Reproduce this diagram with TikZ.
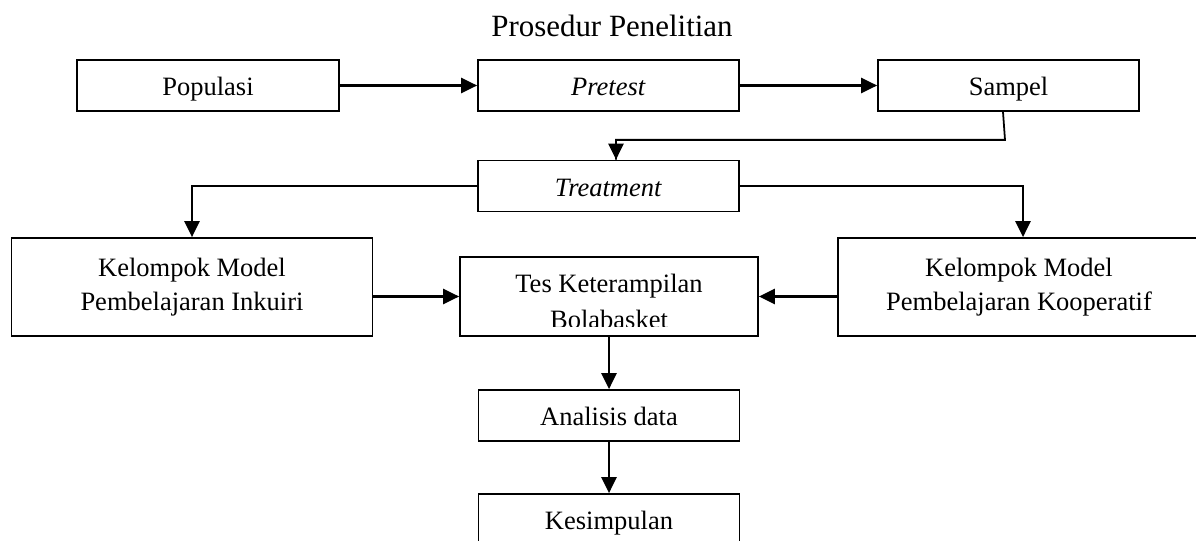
\documentclass[tikz,border=0pt]{standalone}
\usepackage{fontspec}
\setmainfont{Liberation Serif}
\usetikzlibrary{arrows.meta}
\newcommand{\satuan}{0.4528pt}

\begin{document}
\begin{tikzpicture}[x=\satuan, y=-\satuan,
        kotak/.style={draw, line width=0.8pt, inner sep=0pt},
        teks/.style={font=\fontsize{12}{15.4}\selectfont, align=center},
        kotaksatu/.style={kotak, teks, minimum width=261*\satuan, minimum height=51*\satuan, text height=11.5pt, text depth=2.3pt},
        panah/.style={line width=1pt, -{Triangle[length=7.2pt, width=6.8pt]}}]
        \useasboundingbox (0,0) rectangle (1196,541);

        % --- Judul ---
        \node[font=\fontsize{14}{16}\selectfont, anchor=base] (judul) at (612,37) {Prosedur Penelitian};

        % --- Baris atas ---
        \node[kotaksatu, minimum width=262.5*\satuan] (populasi) at (208,85.5) {Populasi};
        \node[kotaksatu] (pretest) at (608.5,85.5) {\textit{Pretest}};
        \node[kotaksatu] (sampel) at (1008.5,85.5) {Sampel};
        \draw[panah] (populasi) -- (pretest);
        \draw[panah] (pretest) -- (sampel);

        % --- Treatment ---
        \node[kotaksatu] (treatment) at (608.5,186) {\textit{Treatment}};
        \draw[line width=0.8pt] (sampel.south) ++(-5.5,0) -- ++(2,28) -| ([xshift=3.4pt]treatment.north);
        \draw[panah] ([xshift=3.4pt]treatment.north) ++(0,-10) -- ([xshift=3.4pt]treatment.north);

        % --- Dua kelompok ---
        \node[kotak, teks, minimum width=361*\satuan, minimum height=98*\satuan] (inkuiri) at (192,287) {Kelompok Model\\Pembelajaran Inkuiri};
        \node[kotak, minimum width=370*\satuan, minimum height=98*\satuan] (kooperatif) at (1023,287) {};
        \node[teks] (kooperatifteks) at (1019,287) {Kelompok Model\\Pembelajaran Kooperatif};
        \draw[panah] (treatment.west) -| (inkuiri.north);
        \draw[panah] (treatment.east) -| (kooperatif.north);

        % --- Tes (teks terpotong di bawah) ---
        \node[kotak, minimum width=298*\satuan, minimum height=79*\satuan] (tes) at (609,296.5) {};
        \begin{scope}
            \clip (462,259) rectangle (756,326);
            \node[teks, anchor=base] (tesA) at (609,292) {Tes Keterampilan};
            \node[teks, anchor=base] (tesB) at (609,328) {Bolabasket};
        \end{scope}
        \draw[panah] (inkuiri.east |- tes.west) -- (tes.west);
        \draw[panah] (kooperatif.west |- tes.east) -- (tes.east);

        % --- Analisis dan kesimpulan ---
        \node[kotaksatu] (analisis) at (609,415.5) {Analisis data};
        \node[kotaksatu] (kesimpulan) at (609,519.5) {Kesimpulan};
        \draw[panah] (tes) -- (analisis);
        \draw[panah] (analisis) -- (kesimpulan);
\end{tikzpicture}
\end{document}
